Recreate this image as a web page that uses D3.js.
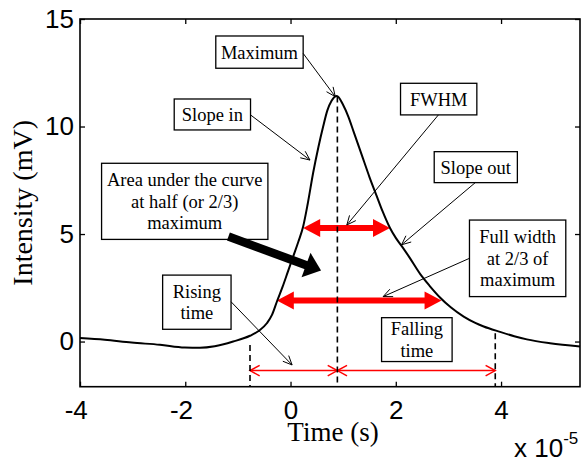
<!DOCTYPE html>
<html>
<head>
<meta charset="utf-8">
<script src="https://cdn.jsdelivr.net/npm/d3@7"></script>
<style>
  html, body { margin: 0; background: #fff; }
  svg { display: block; }
</style>
</head>
<body>
<svg id="chart" width="582" height="461"></svg>
<script>
// signal (time in 1e-5 s, intensity in mV)
const timeValues = [-4.00, -3.53, -3.02, -2.48, -2.01, -1.72, -1.44, -1.09, -0.77, -0.60,
  -0.45, -0.35, -0.26, -0.15, -0.05, 0.05, 0.15, 0.24, 0.33, 0.43,
  0.53, 0.62, 0.70, 0.78, 0.88, 1.00, 1.10, 1.20, 1.30, 1.40,
  1.50, 1.64, 1.75, 1.89, 2.00, 2.11, 2.25, 2.49, 2.65, 2.84,
  3.05, 3.29, 3.50, 3.67, 3.98, 4.25, 4.49, 4.93, 5.50];
const intensityValues = [0.16, 0.08, -0.05, -0.15, -0.28, -0.29, -0.22, 0.00, 0.27, 0.50,
  0.85, 1.25, 1.85, 2.55, 3.25, 3.95, 4.65, 5.35, 6.45, 7.85,
  9.05, 10.00, 10.75, 11.20, 11.42, 11.00, 10.45, 9.75, 9.05, 8.35,
  7.65, 6.75, 6.05, 5.28, 4.82, 4.45, 3.95, 3.05, 2.57, 2.05,
  1.58, 1.16, 0.88, 0.70, 0.45, 0.25, 0.10, -0.08, -0.23];

const xTicks = [-4, -2, 0, 2, 4];
const yTicks = [0, 5, 10, 15];

// markers on the time axis: peak, rise start, fall end
const markerTimes = [0.89, -0.77, 3.89];
const markerTops = [11.4, -0.16, 0.38];

// thick red width arrows (level, start, end)
const widthLevels = [5.28, 1.91];
const widthStarts = [0.24, -0.26];
const widthEnds = [1.89, 2.87];

// thin red time arrows
const timeArrowLevel = -1.35;
const timeArrowSpans = [[-0.77, 0.89], [0.89, 3.89]];

// labelled boxes: box in data units [t0, v0, t1, v1], leader arrow from/to
const notes = [
  { lines: ['Maximum'], box: [-1.42, 14.21, 0.24, 12.71], from: [0.24, 13.40], to: [0.85, 11.39] },
  { lines: ['Slope in'], box: [-2.21, 11.28, -0.76, 9.84], from: [-0.76, 10.54], to: [0.37, 8.44] },
  { lines: ['Area under the curve', 'at half (or 2/3)', 'maximum'], box: [-3.59, 8.29, -0.43, 4.75] },
  { lines: ['FWHM'], box: [2.09, 12.01, 3.54, 10.54], from: [2.81, 10.54], to: [1.07, 5.42] },
  { lines: ['Slope out'], box: [2.73, 8.83, 4.31, 7.39], from: [3.51, 7.39], to: [2.11, 4.50] },
  { lines: ['Full width', 'at 2/3 of', 'maximum'], box: [3.40, 5.65, 5.23, 2.09], from: [3.40, 3.87], to: [1.76, 2.09] },
  { lines: ['Rising', 'time'], box: [-2.43, 3.09, -1.13, 0.57], from: [-1.13, 1.85], to: [0.03, -1.09] },
  { lines: ['Falling', 'time'], box: [1.73, 1.11, 3.07, -0.93] },
];
const bigArrowFrom = [-1.18, 4.88];
const bigArrowTo = [0.58, 3.30];

const RED = '#ff0000';
const SANS = '"Liberation Sans", Arial, sans-serif';
const SERIF = '"Liberation Serif", "Times New Roman", serif';

const svg = d3.select('#chart');
const plotLeft = 80, plotRight = 580, plotTop = 19, plotBottom = 386.7;

const x = d3.scaleLinear().domain([-4, 5.5]).range([plotLeft, plotRight]);
const y = d3.scaleLinear().domain([-2.1, 15]).range([plotBottom, plotTop]);

const fmt = d => d < 0 ? '-' + Math.abs(d) : String(d);

// axes with inward ticks on all four sides
const gx = svg.append('g').attr('transform', `translate(0,${plotBottom})`)
  .call(d3.axisBottom(x).tickValues(xTicks).tickFormat(fmt).tickSizeInner(-5).tickSizeOuter(0).tickPadding(13.5));
const gy = svg.append('g').attr('transform', `translate(${plotLeft},0)`)
  .call(d3.axisLeft(y).tickValues(yTicks).tickFormat(fmt).tickSizeInner(-5).tickSizeOuter(0).tickPadding(6));
svg.append('g').attr('transform', `translate(0,${plotTop})`)
  .call(d3.axisTop(x).tickValues(xTicks).tickFormat('').tickSizeInner(-5).tickSizeOuter(0));
svg.append('g').attr('transform', `translate(${plotRight},0)`)
  .call(d3.axisRight(y).tickValues(yTicks).tickFormat('').tickSizeInner(-5).tickSizeOuter(0));

svg.selectAll('.domain').remove();
svg.selectAll('.tick line').attr('stroke', '#000').attr('stroke-width', 1.3);
[gx, gy].forEach(g => g.selectAll('text')
  .attr('fill', '#000')
  .style('font-family', SANS)
  .style('font-size', '26px'));
gx.selectAll('text').attr('dx', d => d < 0 ? -4.3 : 0);

svg.append('rect')
  .attr('x', plotLeft).attr('y', plotTop)
  .attr('width', plotRight - plotLeft).attr('height', plotBottom - plotTop)
  .attr('fill', 'none').attr('stroke', '#000').attr('stroke-width', 1.6);

// axis titles
svg.append('text')
  .attr('x', (plotLeft + plotRight) / 2 + 3).attr('y', 441)
  .attr('text-anchor', 'middle')
  .style('font-family', SERIF).style('font-size', '27px')
  .text('Time (s)');
svg.append('text')
  .attr('transform', `translate(31.5,${(plotTop + plotBottom) / 2}) rotate(-90)`)
  .attr('text-anchor', 'middle')
  .style('font-family', SERIF).style('font-size', '28px')
  .text('Intensity (mV)');
const mult = svg.append('text')
  .attr('x', 514).attr('y', 456.7)
  .style('font-family', SANS).style('font-size', '26px');
mult.append('tspan').text('x 10');
mult.append('tspan').attr('dy', -13).style('font-size', '17px').text('-5');

// arrow helpers
function openHead(g, x1, y1, x2, y2, len, spread, color, width) {
  const a = Math.atan2(y2 - y1, x2 - x1);
  const p1 = [x2 - len * Math.cos(a - spread), y2 - len * Math.sin(a - spread)];
  const p2 = [x2 - len * Math.cos(a + spread), y2 - len * Math.sin(a + spread)];
  g.append('path')
    .attr('d', `M${p1}L${x2},${y2}L${p2}`)
    .attr('fill', 'none').attr('stroke', color).attr('stroke-width', width);
}
function solidArrow(g, x1, y1, x2, y2, shaft, headLen, headHalf, color, both) {
  const a = Math.atan2(y2 - y1, x2 - x1);
  const ux = Math.cos(a), uy = Math.sin(a);
  const head = (tx, ty, dx, dy) => {
    const bx = tx - dx * headLen, by = ty - dy * headLen;
    return `M${tx},${ty}L${bx - dy * headHalf},${by + dx * headHalf}L${bx + dy * headHalf},${by - dx * headHalf}Z`;
  };
  const sx = both ? x1 + ux * headLen * 0.8 : x1, sy = both ? y1 + uy * headLen * 0.8 : y1;
  g.append('line')
    .attr('x1', sx).attr('y1', sy)
    .attr('x2', x2 - ux * headLen * 0.8).attr('y2', y2 - uy * headLen * 0.8)
    .attr('stroke', color).attr('stroke-width', shaft);
  g.append('path').attr('d', head(x2, y2, ux, uy)).attr('fill', color);
  if (both) g.append('path').attr('d', head(x1, y1, -ux, -uy)).attr('fill', color);
}

const plot = svg.append('g');

// thick red width arrows
widthLevels.forEach((lv, i) => {
  solidArrow(plot, x(widthStarts[i]), y(lv), x(widthEnds[i]), y(lv), 6, 17, 9, RED, true);
});

// thin red time arrows
timeArrowSpans.forEach(([t0, t1]) => {
  const yy = y(timeArrowLevel);
  plot.append('line')
    .attr('x1', x(t0)).attr('y1', yy).attr('x2', x(t1)).attr('y2', yy)
    .attr('stroke', RED).attr('stroke-width', 1.5);
  openHead(plot, x(t1), yy, x(t0), yy, 11, 0.5, RED, 1.5);
  openHead(plot, x(t0), yy, x(t1), yy, 11, 0.5, RED, 1.5);
});

// dashed markers
markerTimes.forEach((t, i) => {
  plot.append('line')
    .attr('x1', x(t)).attr('x2', x(t))
    .attr('y1', y(markerTops[i])).attr('y2', plotBottom)
    .attr('stroke', '#000').attr('stroke-width', 1.6)
    .attr('stroke-dasharray', '6,4');
});

// signal curve
const pts = timeValues.map((t, i) => [t, intensityValues[i]]);
plot.append('path')
  .datum(pts)
  .attr('fill', 'none')
  .attr('stroke', '#000')
  .attr('stroke-width', 2)
  .attr('stroke-linejoin', 'round')
  .attr('d', d3.line().x(d => x(d[0])).y(d => y(d[1])).curve(d3.curveMonotoneX));

// annotation boxes and leaders
notes.forEach(n => {
  const [t0, v0, t1, v1] = n.box;
  const bx = x(t0), by = y(v0), bw = x(t1) - x(t0), bh = y(v1) - y(v0);
  plot.append('rect')
    .attr('x', bx).attr('y', by).attr('width', bw).attr('height', bh)
    .attr('fill', '#fff').attr('stroke', '#000').attr('stroke-width', 1.3);
  const lh = 21.5;
  const cy = by + bh / 2;
  const txt = plot.append('text')
    .attr('text-anchor', 'middle')
    .style('font-family', SERIF).style('font-size', '18.5px');
  n.lines.forEach((s, i) => {
    txt.append('tspan')
      .attr('x', bx + bw / 2)
      .attr('y', cy - (n.lines.length - 1) * lh / 2 + i * lh + 6.5)
      .text(s);
  });
  if (n.from) {
    const [fx, fy] = [x(n.from[0]), y(n.from[1])];
    const [tx, ty] = [x(n.to[0]), y(n.to[1])];
    plot.append('line')
      .attr('x1', fx).attr('y1', fy).attr('x2', tx).attr('y2', ty)
      .attr('stroke', '#000').attr('stroke-width', 1);
    openHead(plot, fx, fy, tx, ty, 10, 0.42, '#000', 1);
  }
});

// big black arrow pointing at the area
solidArrow(plot, x(bigArrowFrom[0]), y(bigArrowFrom[1]), x(bigArrowTo[0]), y(bigArrowTo[1]), 8.5, 16, 13, '#000', false);
</script>
</body>
</html>
